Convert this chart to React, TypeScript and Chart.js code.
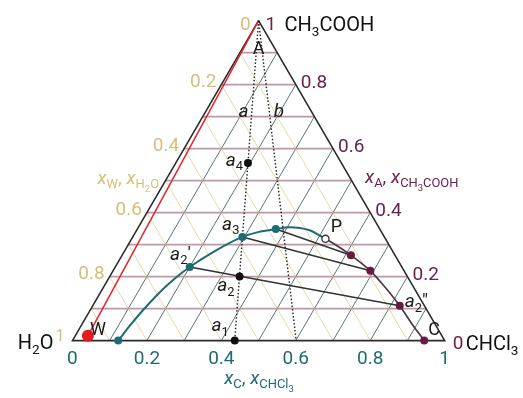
import React, { useEffect, useRef } from "react";
import { Chart, registerables } from "chart.js";

Chart.register(...registerables);

// Compositions are given as [x_A (CH3COOH), x_C (CHCl3)]; x_W = 1 - x_A - x_C.
const gridTicks = [0.1, 0.2, 0.3, 0.4, 0.5, 0.6, 0.7, 0.8, 0.9];
const tickValues = [0, 0.2, 0.4, 0.6, 0.8, 1];
const tickLabels = ["0", "0.2", "0.4", "0.6", "0.8", "1"];

// Binodal (phase boundary), water-rich branch up to the plait point P
const binodalWaterRich = [
  [0, 0.123], [0.0473, 0.1312], [0.0909, 0.1409], [0.1309, 0.1524], [0.1673, 0.1657],
  [0.1994, 0.1811], [0.23, 0.2], [0.282, 0.245], [0.324, 0.2945], [0.339, 0.329],
  [0.3485, 0.372], [0.3545, 0.4055], [0.3455, 0.4624], [0.318, 0.5206],
];
// Binodal, chloroform-rich branch from P down to C
const binodalChloroformRich = [
  [0.318, 0.5206], [0.294, 0.567], [0.2667, 0.6147], [0.218, 0.6913],
  [0.1667, 0.7566], [0.109, 0.8247], [0.0545, 0.8834], [0, 0.945],
];
// Tie lines joining conjugate phases
const tieLines = [
  [[0.23, 0.2], [0.109, 0.8247]],
  [[0.324, 0.2945], [0.218, 0.6913]],
  [[0.3485, 0.372], [0.2667, 0.6147]],
];
const waterRichPhases = [[0, 0.123], [0.23, 0.2], [0.324, 0.2945], [0.3485, 0.372]];
const chloroformRichPhases = [[0.2667, 0.6147], [0.218, 0.6913], [0.109, 0.8247], [0, 0.945]];
const plaitPoint = [0.318, 0.5206];
const pointA1 = [0, 0.436];
const pointA2 = [0.2, 0.349];
const pointA4 = [0.555, 0.194];
const pointA3 = [0.324, 0.2945];
const pointA2p = [0.23, 0.2];
const pointA2pp = [0.109, 0.8247];
const pointC = [0, 0.945];
const pointW = [0.015, 0.034];
const apex = [1, 0];
const baseB = [0, 0.601];

const H = Math.sqrt(3) / 2;
const toXY = (p: number[]) => ({ x: p[1] + p[0] / 2, y: p[0] * H });

const TEAL = "#1f6b73";
const MAROON = "#6a1a3e";
const PURPLE = "#6b2150";
const TAN = "#d6bf78";
const FONT = "Roboto, 'DejaVu Sans', sans-serif";

type Run = { t: string; c: string; it?: boolean; sub?: number; sup?: boolean };

function drawRuns(ctx: CanvasRenderingContext2D, runs: Run[], x: number, cy: number, size: number, align: "left" | "right" | "center") {
  const sz = (r: Run) => (r.sub === 2 ? size * 0.5 : r.sub || r.sup ? size * 0.68 : size);
  const fontOf = (r: Run) => `${r.it ? "italic " : ""}${sz(r).toFixed(1)}px ${FONT}`;
  let w = 0;
  for (const r of runs) {
    ctx.font = fontOf(r);
    w += ctx.measureText(r.t).width;
  }
  let cx = align === "center" ? x - w / 2 : align === "right" ? x - w : x;
  const base = cy + size * 0.35;
  ctx.textAlign = "left";
  ctx.textBaseline = "alphabetic";
  for (const r of runs) {
    ctx.font = fontOf(r);
    ctx.fillStyle = r.c;
    const dy = r.sub === 2 ? size * 0.42 : r.sub ? size * 0.25 : r.sup ? -size * 0.42 : 0;
    ctx.fillText(r.t, cx, base + dy);
    cx += ctx.measureText(r.t).width;
  }
}

const textPlugin = {
  id: "ternaryText",
  afterDatasetsDraw(chart: any) {
    const ctx: CanvasRenderingContext2D = chart.ctx;
    const xs = chart.scales.x;
    const ys = chart.scales.y;
    const px = (p: number[]) => {
      const d = toXY(p);
      return [xs.getPixelForValue(d.x), ys.getPixelForValue(d.y)];
    };
    ctx.save();
    const S = 19;
    const V = 20;

    // bottom axis (x_C)
    tickValues.forEach((v, i) => {
      const [x, y] = px([0, v]);
      drawRuns(ctx, [{ t: tickLabels[i], c: TEAL }], x, y + 17, S, "center");
    });
    // right axis (x_A)
    tickValues.forEach((v, i) => {
      if (v === 0 || v === 1) return;
      const [x, y] = px([v, 1 - v]);
      drawRuns(ctx, [{ t: tickLabels[i], c: PURPLE }], x + 5, y - 3, S, "left");
    });
    // left axis (x_W)
    tickValues.forEach((v, i) => {
      if (v === 0 || v === 1) return;
      const [x, y] = px([1 - v, 0]);
      drawRuns(ctx, [{ t: tickLabels[i], c: TAN }], x - 5, y - 4, S, "right");
    });

    // vertices
    const [tx, ty] = px(apex);
    drawRuns(ctx, [{ t: "0", c: TAN }], tx - 8, ty + 3, S, "right");
    drawRuns(ctx, [{ t: "1", c: PURPLE }], tx + 7, ty + 3, S, "left");
    drawRuns(ctx, [{ t: "CH", c: "#111" }, { t: "3", c: "#111", sub: 1 }, { t: "COOH", c: "#111" }], tx + 26, ty + 3, V, "left");

    const [lx, ly] = px([0, 0]);
    drawRuns(ctx, [{ t: "H", c: "#111" }, { t: "2", c: "#111", sub: 1 }, { t: "O", c: "#111" }], lx - 19, ly + 1, V, "right");
    drawRuns(ctx, [{ t: "1", c: TAN }], lx - 17, ly - 5, S * 0.85, "left");

    const [rx, ry] = px([0, 1]);
    drawRuns(ctx, [{ t: "0", c: PURPLE }], rx + 8, ry + 2, S, "left");
    drawRuns(ctx, [{ t: "CHCl", c: "#111" }, { t: "3", c: "#111", sub: 1 }], rx + 21, ry + 2, V, "left");

    // axis titles
    drawRuns(ctx, [
      { t: "x", c: TEAL, it: true }, { t: "C", c: TEAL, sub: 1 }, { t: ", ", c: TEAL },
      { t: "x", c: TEAL, it: true }, { t: "CHCl", c: TEAL, sub: 1 }, { t: "3", c: TEAL, sub: 2 },
    ], 259, 377, S, "center");
    drawRuns(ctx, [
      { t: "x", c: TAN, it: true }, { t: "W", c: TAN, sub: 1 }, { t: ", ", c: TAN },
      { t: "x", c: TAN, it: true }, { t: "H", c: TAN, sub: 1 }, { t: "2", c: TAN, sub: 2 }, { t: "O", c: TAN, sub: 1 },
    ], 159, 177, S, "right");
    drawRuns(ctx, [
      { t: "x", c: PURPLE, it: true }, { t: "A", c: PURPLE, sub: 1 }, { t: ", ", c: PURPLE },
      { t: "x", c: PURPLE, it: true }, { t: "CH", c: PURPLE, sub: 1 }, { t: "3", c: PURPLE, sub: 2 }, { t: "COOH", c: PURPLE, sub: 1 },
    ], 365, 176, S, "left");

    // point labels
    const K = "#1a1a1a";
    drawRuns(ctx, [{ t: "A", c: K }], tx, ty + 27, 18, "center");
    const [ax, ay] = px([0.7, 0.436 * 0.3]);
    drawRuns(ctx, [{ t: "a", c: K, it: true }], ax - 8, ay - 6, S, "center");
    const [bx, by] = px([0.7, 0.601 * 0.3]);
    drawRuns(ctx, [{ t: "b", c: K, it: true }], bx + 9, by - 6, S, "center");

    let [x, y] = px(pointA4);
    drawRuns(ctx, [{ t: "a", c: K, it: true }, { t: "4", c: K, sub: 1 }], x - 5, y - 4, S, "right");
    [x, y] = px(pointA3);
    drawRuns(ctx, [{ t: "a", c: K, it: true }, { t: "3", c: K, sub: 1 }], x - 3, y - 14, S, "right");
    [x, y] = px(pointA2p);
    drawRuns(ctx, [{ t: "a", c: K, it: true }, { t: "2", c: K, sub: 1 }, { t: "′", c: K }], x + 1, y - 14, S, "right");
    [x, y] = px(pointA2);
    drawRuns(ctx, [{ t: "a", c: K, it: true }, { t: "2", c: K, sub: 1 }], x - 5, y + 8, S, "right");
    [x, y] = px(pointA1);
    drawRuns(ctx, [{ t: "a", c: K, it: true }, { t: "1", c: K, sub: 1 }], x - 6, y - 16, S, "right");
    [x, y] = px(plaitPoint);
    drawRuns(ctx, [{ t: "P", c: K }], x + 11, y - 13, 18, "center");
    [x, y] = px(pointA2pp);
    drawRuns(ctx, [{ t: "a", c: K, it: true }, { t: "2", c: K, sub: 1 }, { t: "″", c: K }], x + 5, y - 5, S, "left");
    [x, y] = px(pointC);
    drawRuns(ctx, [{ t: "C", c: K }], x + 10, y - 12, 18, "center");
    [x, y] = px(pointW);
    drawRuns(ctx, [{ t: "W", c: K }], x + 10, y - 7, 18, "center");

    ctx.restore();
  },
};

function line(points: number[][], color: string, width: number, extra: any = {}) {
  return {
    data: points.map(toXY),
    showLine: true,
    borderColor: color,
    borderWidth: width,
    pointRadius: 0,
    fill: false,
    clip: false as any,
    ...extra,
  };
}

function dots(points: number[][], fillColor: string, radius: number, borderColor?: string) {
  return {
    data: points.map(toXY),
    showLine: false,
    pointRadius: radius,
    pointBackgroundColor: fillColor,
    pointBorderColor: borderColor || fillColor,
    pointBorderWidth: borderColor ? 1.3 : 0,
    clip: false as any,
  };
}

export default function App() {
  const ref = useRef<HTMLCanvasElement>(null);

  useEffect(() => {
    if (!ref.current) return;
    const layers: any[] = [];
    // grid: constant x_W (parallel to the A–C side)
    gridTicks.forEach((t) => layers.push(line([[0, 1 - t], [1 - t, 0]], "#e6d9ab", 1)));
    // grid: constant x_C (parallel to the W–A side)
    gridTicks.forEach((t) => layers.push(line([[0, t], [1 - t, t]], "#5b7575", 1)));
    // grid: constant x_A (horizontal)
    gridTicks.forEach((t) => layers.push(line([[t, 0], [t, 1 - t]], "#bf97a8", 1.6)));
    // triangle
    layers.push(line([[1, 0], [0, 0], [0, 1], [1, 0]], "#2b2b2b", 1.6));
    // water–acetic acid line
    layers.push(line([pointW, apex], "#e0262b", 1.5));
    // isopleths a and b
    layers.push(line([apex, pointA1], "#222", 1.4, { borderDash: [1.5, 2] }));
    layers.push(line([apex, baseB], "#222", 1.4, { borderDash: [1.5, 2] }));
    // tie lines
    tieLines.forEach((tl) => layers.push(line(tl, "#333", 1.5)));
    // binodal
    layers.push(line(binodalWaterRich, TEAL, 2, { cubicInterpolationMode: "monotone" }));
    layers.push(line(binodalChloroformRich, "#4a3843", 1.7, { cubicInterpolationMode: "monotone" }));
    // marks
    layers.push(dots(waterRichPhases, TEAL, 4));
    layers.push(dots(chloroformRichPhases, MAROON, 4));
    layers.push(dots([pointA1, pointA2, pointA4], "#111", 4));
    layers.push(dots([plaitPoint], "#fff", 3.6, "#333"));
    layers.push(dots([pointW], "#e3191f", 6));

    const chart = new Chart(ref.current, {
      type: "scatter",
      data: { datasets: layers.reverse() },
      options: {
        animation: false,
        responsive: false,
        maintainAspectRatio: false,
        layout: { padding: 0 },
        plugins: { legend: { display: false }, tooltip: { enabled: false } },
        elements: { point: { hoverRadius: 0 } },
        scales: {
          x: { type: "linear", display: false, min: -68 / 381, max: (523 - 68) / 381 },
          y: { type: "linear", display: false, min: -(398 - 345) / 381, max: 345 / 381 },
        },
      },
      plugins: [textPlugin],
    });
    return () => chart.destroy();
  }, []);

  return (
    <div style={{ position: "fixed", left: 0, top: 0, width: 523, height: 398, background: "#fff" }}>
      <canvas ref={ref} width={523} height={398} style={{ width: 523, height: 398 }} />
    </div>
  );
}
